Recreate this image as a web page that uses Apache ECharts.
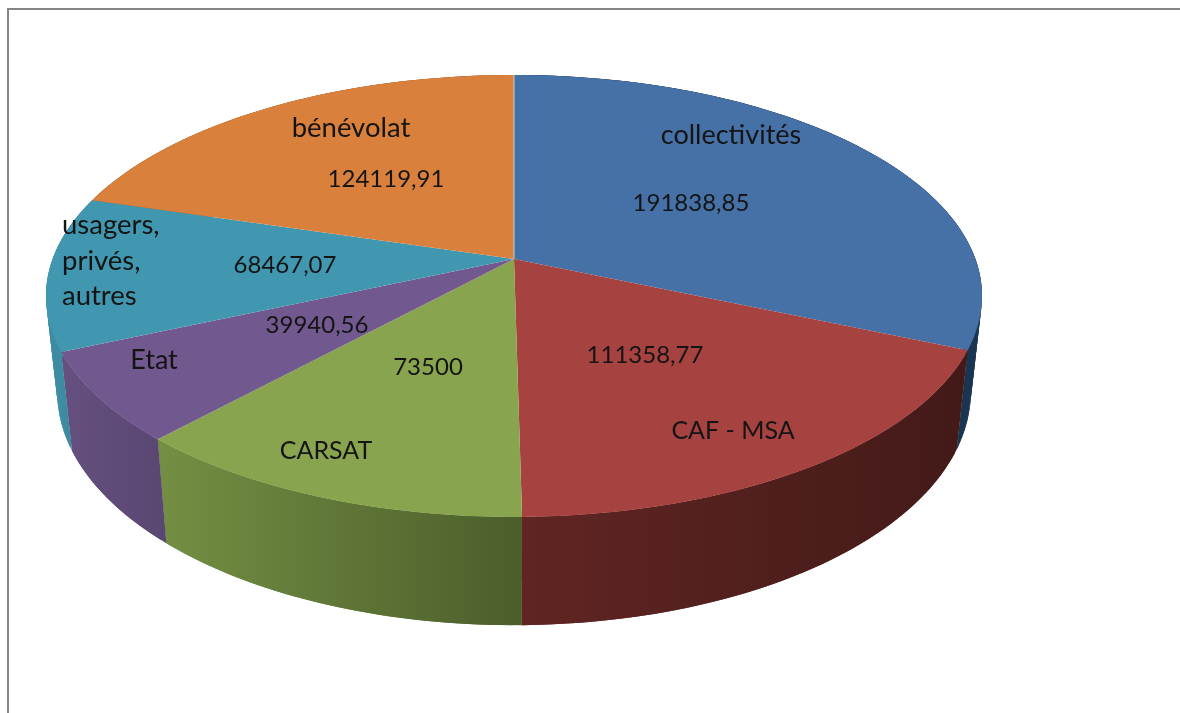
<!DOCTYPE html>
<html>
<head>
<meta charset="utf-8">
<title>Financeurs</title>
<style>
html, body { margin: 0; padding: 0; background: #fff; }
#main { width: 1180px; height: 713px; }
</style>
<script src="https://cdn.jsdelivr.net/npm/echarts@6/dist/echarts.min.js"></script>
</head>
<body>
<div id="main"></div>
<script>
// chart data, clockwise from 12 o'clock
var categories = ['collectivités', 'CAF - MSA', 'CARSAT', 'Etat', 'usagers,\nprivés,\nautres', 'bénévolat'];
var values = [191838.85, 111358.77, 73500, 39940.56, 68467.07, 124119.91];

// colours
var topColors = ['#4571a7', '#a64240', '#89a44e', '#71588f', '#4197af', '#d9813c'];
var wallLeft = ['#1a3552', '#602523', '#748f43', '#65507f', '#3e8ca2', '#a8642e'];
var wallRight = ['#1a3552', '#431a18', '#4b5e2b', '#5a4772', '#38829a', '#a8642e'];

// label centres [name x, name y, value x, value y] and name font sizes
var labelPos = [
    [731, 135, 691, 203],
    [733, 431, 645, 355],
    [326, 451, 428, 367],
    [154, 360, 317, 325],
    [62, 261, 285, 265],
    [351, 128, 386, 179]
];
var nameSizes = [27, 25, 25, 27, 27.5, 27.5];

// the pie plate seen in perspective
var cx = 514, cy = 259, A = 461.4, B = 214.8, K = 0.1674;
// bottom rim relative to the top rim
var scaleX = 0.976, scaleY = 1.055, bottomY = 353;

function topPoint(a) {
    var u = Math.sin(a), v = -Math.cos(a), w = 1 - K * v;
    return [cx + A * u / w, cy + B * v / w];
}
function bottomPoint(a) {
    var p = topPoint(a);
    return [cx + (p[0] - cx) * scaleX, bottomY + (p[1] - cy) * scaleY];
}
function steps(a0, a1) {
    var out = [];
    var n = Math.max(2, Math.ceil((a1 - a0) * 60));
    for (var i = 0; i <= n; i++) {
        out.push(a0 + (a1 - a0) * i / n);
    }
    return out;
}

// start and end angle of each slice
var total = values.reduce(function (s, v) { return s + v; }, 0);
var sliceData = [];
var acc = 0;
values.forEach(function (v) {
    var a0 = acc / total * Math.PI * 2;
    acc += v;
    sliceData.push([a0, acc / total * Math.PI * 2]);
});

// wall = many small overlapping quads, so the silhouette between both rims gets filled
function renderWall(params, api) {
    var i = params.dataIndex;
    var a0 = api.value(0), a1 = api.value(1);
    var xs = [topPoint(a0)[0], topPoint(a1)[0]];
    var fill = {
        type: 'linear', global: true,
        x: Math.min(xs[0], xs[1]), y: 0, x2: Math.max(xs[0], xs[1]), y2: 0,
        colorStops: [
            { offset: 0, color: wallLeft[i] },
            { offset: 1, color: wallRight[i] }
        ]
    };
    var angles = steps(a0, a1);
    var children = [];
    for (var k = 0; k < angles.length - 1; k++) {
        var next = angles[Math.min(k + 2, angles.length - 1)];
        children.push({
            type: 'polygon',
            shape: { points: [topPoint(angles[k]), topPoint(next), bottomPoint(next), bottomPoint(angles[k])] },
            style: { fill: fill }
        });
    }
    return { type: 'group', children: children };
}

function renderTop(params, api) {
    var pts = [[cx, cy]].concat(steps(api.value(0), api.value(1)).map(topPoint));
    return {
        type: 'polygon',
        shape: { points: pts },
        style: { fill: topColors[params.dataIndex] }
    };
}

var graphics = [
    // frame cut off by the screenshot
    { type: 'polyline', shape: { points: [[8, 713], [8, 9], [1180, 9]] }, style: { stroke: '#868686', lineWidth: 2, fill: null }, silent: true },
    // pale seam where the first slice starts
    { type: 'polyline', z: 5, silent: true, shape: { points: [[cx, cy], topPoint(sliceData[0][0])] }, style: { stroke: '#c9ced6', lineWidth: 1, fill: null } }
];
categories.forEach(function (name, i) {
    var p = labelPos[i];
    var multi = name.indexOf('\n') >= 0;
    graphics.push({
        type: 'text', x: p[0], y: p[1], z: 10, silent: true,
        style: {
            text: name, align: multi ? 'left' : 'center', verticalAlign: 'middle', lineHeight: 35.5,
            fontFamily: 'Lato', fontSize: nameSizes[i], fill: '#141414'
        }
    });
    graphics.push({
        type: 'text', x: p[2], y: p[3], z: 10, silent: true,
        style: {
            text: String(values[i]).replace('.', ','), align: 'center', verticalAlign: 'middle',
            fontFamily: 'Lato', fontSize: 24, fill: '#141414'
        }
    });
});

var myChart = echarts.init(document.getElementById('main'));
myChart.setOption({
    animation: false,
    backgroundColor: '#ffffff',
    tooltip: { show: false },
    graphic: graphics,
    series: [
        { type: 'custom', coordinateSystem: 'none', silent: true, z: 1, renderItem: renderWall, data: sliceData },
        { type: 'custom', coordinateSystem: 'none', silent: true, z: 2, renderItem: renderTop, data: sliceData }
    ]
});
</script>
</body>
</html>
